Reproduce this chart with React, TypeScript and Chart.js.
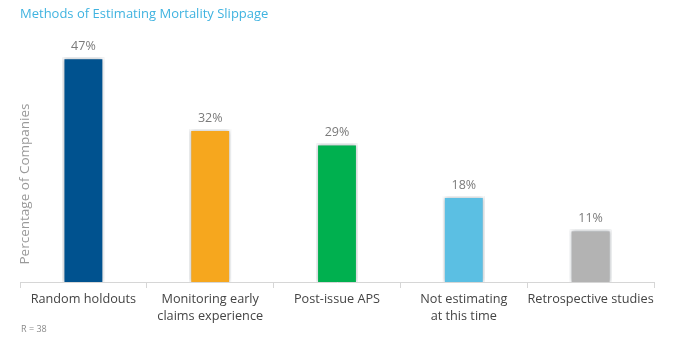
import React, { useEffect, useRef } from "react";
import { Chart, registerables } from "chart.js";

Chart.register(...registerables);

const categories: (string | string[])[] = [
  "Random holdouts",
  ["Monitoring early", "claims experience"],
  "Post-issue APS",
  ["Not estimating", "at this time"],
  "Retrospective studies",
];
const values: number[] = [47, 32, 29, 18, 11];
const barColors: string[] = ["#00528f", "#f6a71e", "#00b04f", "#5bbfe3", "#b3b3b3"];
const chartTitle = "Methods of Estimating Mortality Slippage";
const yTitle = "Percentage of Companies";
const footnote = "R = 38";

const FONT = "'Open Sans', 'Noto Sans', sans-serif";

const decorPlugin = {
  id: "decor",
  beforeDatasetsDraw(chart: any) {
    const ctx = chart.ctx;
    ctx.save();
    ctx.shadowColor = "rgba(110,120,130,0.6)";
    ctx.shadowBlur = 4;
    ctx.shadowOffsetX = 0;
    ctx.shadowOffsetY = 0;
  },
  afterDatasetsDraw(chart: any) {
    const ctx = chart.ctx;
    ctx.restore();
    const meta = chart.getDatasetMeta(0);
    ctx.save();
    ctx.font = `12.5px ${FONT}`;
    ctx.fillStyle = "#7a7a7a";
    ctx.textAlign = "center";
    ctx.textBaseline = "middle";
    meta.data.forEach((bar: any, i: number) => {
      ctx.fillText(values[i] + "%", bar.x, bar.y - 11);
    });
    ctx.restore();
  },
  afterDraw(chart: any) {
    const ctx = chart.ctx;
    ctx.save();
    ctx.font = `13px ${FONT}`;
    ctx.fillStyle = "#3fb3e0";
    ctx.textAlign = "left";
    ctx.textBaseline = "middle";
    ctx.fillText(chartTitle, 20, 14);

    ctx.font = `9px ${FONT}`;
    ctx.fillStyle = "#8a8a8a";
    ctx.fillText(footnote, 21, 329);

    ctx.translate(25, 184);
    ctx.rotate(-Math.PI / 2);
    ctx.font = `13.5px ${FONT}`;
    ctx.fillStyle = "#9a9a9a";
    ctx.textAlign = "center";
    ctx.fillText(yTitle, 0, 0);
    ctx.restore();
  },
};

export default function App() {
  const ref = useRef<HTMLCanvasElement | null>(null);
  useEffect(() => {
    if (!ref.current) return;
    const chart = new Chart(ref.current, {
      type: "bar",
      data: {
        labels: categories as any,
        datasets: [
          {
            data: values,
            backgroundColor: barColors,
            borderColor: "#ffffff",
            borderWidth: 2,
            barPercentage: 0.33,
            categoryPercentage: 1,
          },
        ],
      },
      options: {
        animation: false,
        responsive: false,
        layout: { padding: { top: 43, left: 20, right: 20, bottom: 16.5 } },
        plugins: { legend: { display: false }, tooltip: { enabled: false }, title: { display: false } },
        scales: {
          y: { display: false, min: 0, max: 50 },
          x: {
            offset: true,
            border: { display: true, color: "#d6d6d6", width: 1 },
            grid: { display: true, drawOnChartArea: false, drawTicks: true, tickLength: 6, color: "#d6d6d6" },
            ticks: {
              color: "#444444",
              padding: 3.1,
              maxRotation: 0,
              autoSkip: false,
              font: { family: FONT, size: 12.7, lineHeight: 1.35 },
            },
          },
        },
      },
      plugins: [decorPlugin],
    });
    return () => chart.destroy();
  }, []);
  return (
    <div style={{ position: "fixed", left: 0, top: 0, width: 674, height: 345, background: "#fff" }}>
      <canvas ref={ref} width={674} height={345} style={{ width: 674, height: 345 }} />
    </div>
  );
}
